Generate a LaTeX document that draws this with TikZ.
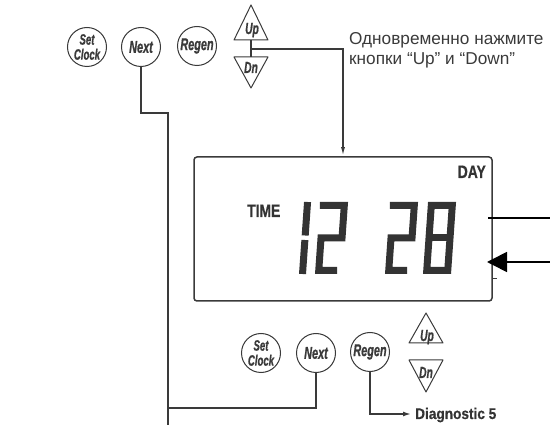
\documentclass[tikz,border=0pt]{standalone}
\usepackage{fontspec}
\setmainfont{Liberation Sans}
\newfontfamily\cnd[FakeStretch=0.64,FakeBold=0.8]{Liberation Sans}
\newfontfamily\cndb[FakeStretch=0.77,FakeBold=0.5]{Liberation Sans}
\newfontfamily\cndc[FakeStretch=0.88,FakeBold=0.5]{Liberation Sans}
\usetikzlibrary{arrows.meta}
\definecolor{ink}{HTML}{3A3A3A}
\definecolor{lcd}{HTML}{333333}
\begin{document}
\begin{tikzpicture}[x=1pt,y=-1pt,
  btn/.style={circle,draw=ink,line width=1pt,minimum size=39pt,inner sep=0pt,
    font=\cnd\bfseries\itshape\fontsize{17}{13}\selectfont,text=ink,align=center},
  sbtn/.style={btn,font=\cnd\bfseries\itshape\fontsize{15}{15}\selectfont},
  tri/.style={draw=ink,line width=1pt,line join=round},
  tlab/.style={font=\cnd\bfseries\itshape\fontsize{16}{16}\selectfont,text=ink,inner sep=0pt},
  wire/.style={draw=ink,line width=1.5pt},
  seg/.style={draw=lcd,line width=7pt,line join=miter,line cap=butt},
  blk/.style={draw=black,line width=1.6pt}
]
\useasboundingbox (0,0) rectangle (550,425);

% ---- top buttons
\node[sbtn] (sc1) at (87,47) {Set\\Clock};
\node[btn] (nx1) at (141,47) {Next};
\node[btn] (rg1) at (197,46) {Regen};
\draw[tri] (251,5) -- (268,40) -- (234,40) -- cycle;
\node[tlab,anchor=base] (up1) at (252,34) {Up};
\draw[tri] (234,57) -- (268,57) -- (251,88) -- cycle;
\node[tlab,anchor=base] (dn1) at (251,73) {Dn};
\coordinate (u1b) at (251,40);
\coordinate (d1t) at (251,57);
\coordinate (j1) at (251,49);

% ---- display
\node[draw=ink,line width=1.5pt,rounded corners=3pt,minimum width=298pt,
  minimum height=144pt,inner sep=0pt] (disp) at (343,229) {};
\node[font=\cndb\bfseries\fontsize{18}{18}\selectfont,text=lcd,inner sep=0pt,anchor=base east] (day) at (486,178) {DAY};
\node[font=\cndb\bfseries\fontsize{18}{18}\selectfont,text=lcd,inner sep=0pt,anchor=base west] (time) at (247,217) {TIME};

% digits
\begin{scope}[shift={(299,274)},xslant=0.07]
  \draw[seg] (3.5,-72) -- (3.5,-38.5);
  \draw[seg] (3.5,-34) -- (3.5,0);
\end{scope}
\begin{scope}[shift={(315,274)},xslant=0.07]
  \draw[seg] (0,-68.5) -- (24.5,-68.5) -- (24.5,-36) -- (3.5,-36) -- (3.5,-3.5) -- (22,-3.5);
\end{scope}
\begin{scope}[shift={(385,274)},xslant=0.07]
  \draw[seg] (0,-68.5) -- (24.5,-68.5) -- (24.5,-36) -- (3.5,-36) -- (3.5,-3.5) -- (22,-3.5);
\end{scope}
\begin{scope}[shift={(423,274)},xslant=0.07]
  \draw[seg] (3.5,-3.5) rectangle (24.5,-68.5);
  \draw[seg] (3.5,-36) -- (24.5,-36);
\end{scope}

% ---- note text
\node[anchor=base west,align=left,inner sep=0pt,text=ink,
  font=\fontsize{17.2}{20}\selectfont] (note) at (349,65)
  {Одновременно нажмите\\кнопки “Up” и “Down”};

% ---- bottom buttons
\node[sbtn] (sc2) at (261,353) {Set\\Clock};
\node[btn] (nx2) at (316,353) {Next};
\node[btn] (rg2) at (370,352) {Regen};
\draw[tri] (426,313) -- (443,343) -- (409,343) -- cycle;
\node[tlab,anchor=base] (up2) at (427,341) {Up};
\draw[tri] (409,360) -- (443,360) -- (426,392) -- cycle;
\node[tlab,anchor=base] (dn2) at (426,378) {Dn};

\node[font=\cndc\bfseries\fontsize{15.5}{15}\selectfont,text=lcd,inner xsep=4pt,inner ysep=0pt,
  anchor=base west] (diag) at (411,419) {Diagnostic 5};

% ---- wires
\draw[wire] (u1b) -- (d1t);
\draw[wire,-{Latex[length=9pt,width=4pt]}] (j1) -| (disp.north);

\coordinate (bend1) at (168,113);
\coordinate (tail) at (168,425);
\coordinate (bend2) at (168,408);
\draw[wire,line join=miter] (nx1.south) |- (bend1) -- (tail);
\draw[wire,line join=miter] (nx2.south) |- (bend2);
\draw[wire,-{Latex[length=8pt,width=5pt]}] (rg2.south) |- ([yshift=5pt]diag.base west);

% ---- right side
\coordinate (r1a) at (550,218);
\coordinate (r1b) at (488,218);
\coordinate (r2a) at (550,262);
\coordinate (r2b) at (487,262);
\draw[blk] (r1a) -- (r1b);
\draw[blk,-{Triangle[length=20pt,width=20pt]}] (r2a) -- (r2b);
\coordinate (tk1) at (492,279);
\coordinate (tk2) at (497,279);
\draw[ink,line width=1pt] (tk1) -- (tk2);
\end{tikzpicture}
\end{document}
